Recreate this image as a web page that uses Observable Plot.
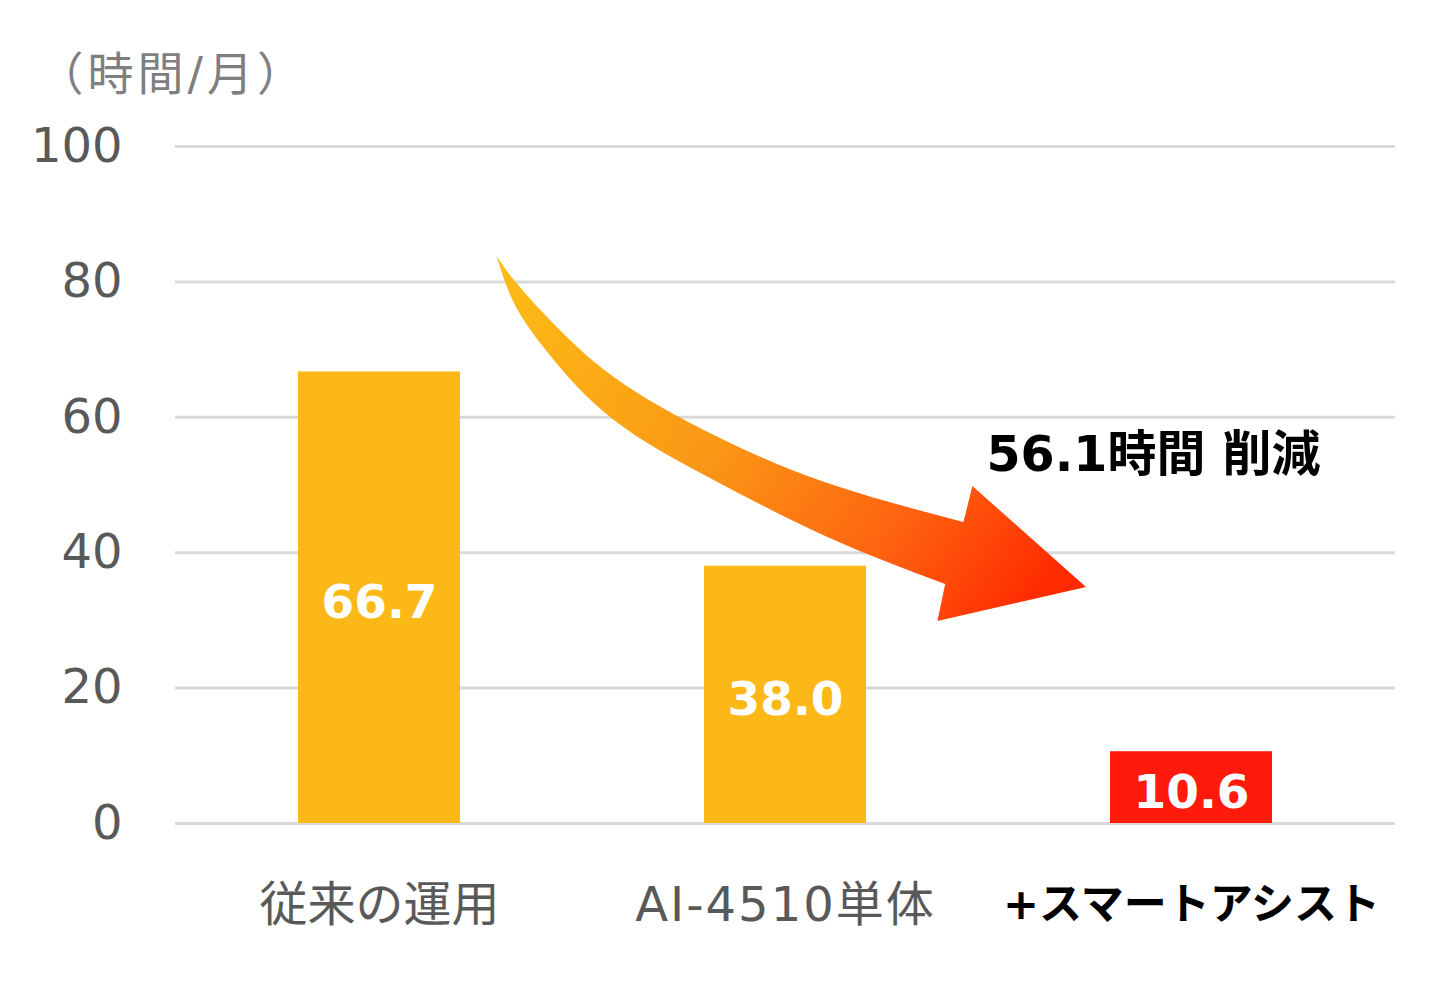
<!DOCTYPE html>
<html><head><meta charset="utf-8">
<script src="https://cdn.jsdelivr.net/npm/d3@7"></script>
<script src="https://cdn.jsdelivr.net/npm/@observablehq/plot@0.6"></script>
<style>body{margin:0;background:#fff}</style>
</head><body><div id="chart"></div>
<script>
// ---- data ----
const categories = ["従来の運用", "AI-4510単体", "+スマートアシスト"];
const values = [66.7, 38.0, 10.6];
const valueLabels = ["66.7", "38.0", "10.6"];
const yTicks = [0, 20, 40, 60, 80, 100];
const unitLabel = "（時間/月）";
const reductionLabel = "56.1時間 削減";
const reductionValue = 54.4;
const highlight = "+スマートアシスト";
// arrow outline: [offset in bar steps from first bar centre, value on y axis]
const arrowUpper = [[0.289,83.75],[0.332,80.21],[0.416,74.59],[0.578,65.88],[0.824,57.31],[1.104,50.22],[1.439,44.46]];
const arrowHead = [[1.461,49.78],[1.741,34.86],[1.375,29.84],[1.394,35.30]];
const arrowLower = [[1.394,35.30],[1.104,42.25],[0.824,50.66],[0.578,59.53],[0.416,69.42],[0.332,76.81],[0.289,83.75]];

const bars = categories.map((c, i) => ({cat: c, value: values[i], label: valueLabels[i]}));

const FONT = "'DejaVu Sans', 'Noto Sans CJK JP', sans-serif";
const barColor = "#FBB817";
const highlightColor = "#FF1A0B";
const paddingInner = 0.6;

function arrowMark(index, scales) {
  const x0 = scales.x(categories[0]), x1 = scales.x(categories[1]);
  const step = x1 - x0, bw = step * (1 - paddingInner);
  const px = t => x0 + bw / 2 + t * step;
  const py = v => scales.y(v);
  const line = d3.line(d => px(d[0]), d => py(d[1])).curve(d3.curveNatural);
  const up = line(arrowUpper);
  const head = arrowHead.map(d => `L${px(d[0])},${py(d[1])}`).join("");
  const lo = line(arrowLower).replace(/^M/, "L");
  const ns = "http://www.w3.org/2000/svg";
  const g = document.createElementNS(ns, "g");
  const defs = document.createElementNS(ns, "defs");
  const grad = document.createElementNS(ns, "linearGradient");
  grad.setAttribute("id", "arrowGrad");
  grad.setAttribute("gradientUnits", "userSpaceOnUse");
  grad.setAttribute("x1", px(0.29)); grad.setAttribute("y1", py(84));
  grad.setAttribute("x2", px(1.55)); grad.setAttribute("y2", py(27));
  [[0, "#FDBE16"], [0.45, "#FA9815"], [0.75, "#FE6410"], [1, "#FF2A00"]].forEach(([o, c]) => {
    const s = document.createElementNS(ns, "stop");
    s.setAttribute("offset", o); s.setAttribute("stop-color", c);
    grad.appendChild(s);
  });
  defs.appendChild(grad);
  g.appendChild(defs);
  const path = document.createElementNS(ns, "path");
  path.setAttribute("d", up + head + lo + "Z");
  path.setAttribute("fill", "url(#arrowGrad)");
  g.appendChild(path);
  return g;
}

const chart = Plot.plot({
  width: 1446,
  height: 997,
  marginTop: 146,
  marginBottom: 174,
  marginLeft: 175,
  marginRight: 51,
  style: {fontFamily: FONT, background: "#fff", color: "#595959"},
  x: {domain: categories, paddingInner: paddingInner, paddingOuter: 0.3, axis: null},
  y: {domain: [0, 100], axis: null},
  marks: [
    Plot.gridY(yTicks, {stroke: "#D9D9D9", strokeOpacity: 1, strokeWidth: 3}),
    Plot.axisY(yTicks, {tickSize: 0, tickPadding: 53, fontSize: 48, fill: "#595959", label: null}),
    Plot.barY(bars, {x: "cat", y: "value", fill: d => d.cat === highlight ? highlightColor : barColor}),
    arrowMark,
    Plot.text(bars, {x: "cat", y: d => d.value / 2, text: "label", fill: "white", fontWeight: "bold", fontSize: 47, dy: 5}),
    Plot.text(bars.filter(d => d.cat !== highlight), {x: "cat", text: "cat", frameAnchor: "bottom", dy: 82, lineAnchor: "middle", fontSize: 48, fill: "#595959"}),
    Plot.text(bars.filter(d => d.cat === highlight), {x: "cat", text: "cat", frameAnchor: "bottom", dy: 82, lineAnchor: "middle", fontSize: 43, fontWeight: "bold", fill: "black"}),
    Plot.text([reductionLabel], {x: [highlight], y: [reductionValue], text: d => d, dx: -38, fontSize: 49, fontWeight: "bold", fill: "black"}),
    Plot.text([unitLabel], {frameAnchor: "top-left", text: d => d, dx: -138, dy: -71, lineAnchor: "middle", textAnchor: "start", fontSize: 46, fill: "#7F7F7F"})
  ]
});
d3.select(chart).selectAll("text").each(function () {
  if (this.textContent === unitLabel) this.setAttribute("letter-spacing", "4");
  if (this.textContent === categories[1]) this.setAttribute("letter-spacing", "2");
});
document.getElementById("chart").appendChild(chart);
</script>
</body></html>
